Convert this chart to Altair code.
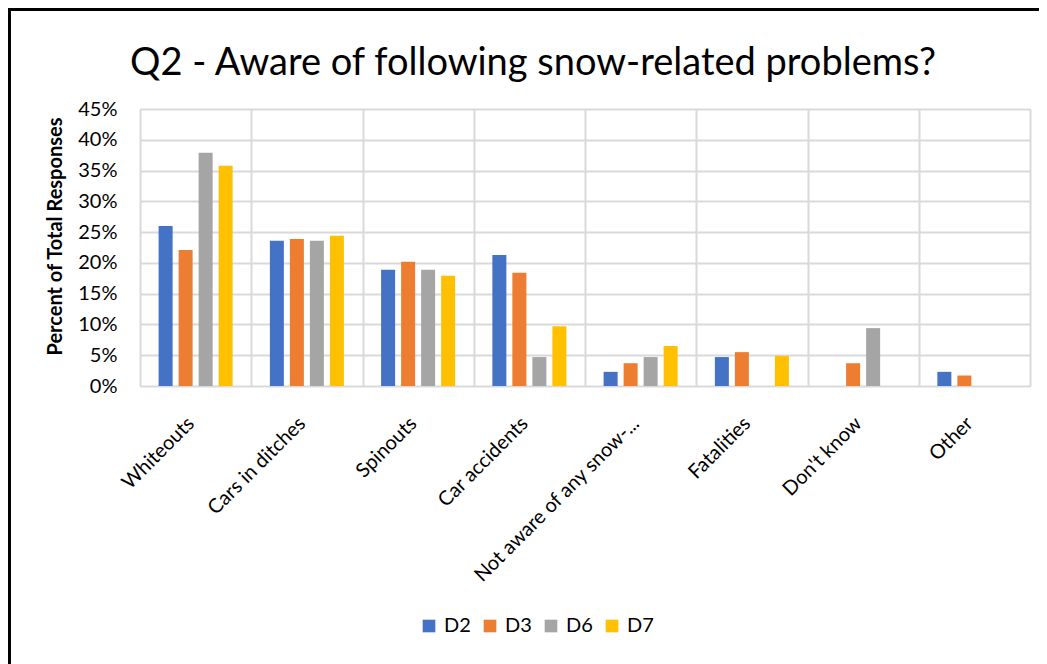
import altair as alt
import pandas as pd

categories = ["Whiteouts", "Cars in ditches", "Spinouts", "Car accidents",
              "Not aware of any snow-...", "Fatalities", "Don't know", "Other"]
series = ["D2", "D3", "D6", "D7"]
d2 = [26.0, 23.6, 18.9, 21.3, 2.3, 4.7, None, 2.3]
d3 = [22.1, 23.9, 20.2, 18.4, 3.7, 5.5, 3.7, 1.7]
d6 = [37.9, 23.6, 18.9, 4.7, 4.7, None, 9.4, None]
d7 = [35.8, 24.4, 17.9, 9.7, 6.5, 4.9, None, None]
colors = ["#4472C4", "#ED7D31", "#A5A5A5", "#FFC000"]
y_ticks = [0, 0.05, 0.10, 0.15, 0.20, 0.25, 0.30, 0.35, 0.40, 0.45]

rows = []
for s, vals in zip(series, [d2, d3, d6, d7]):
    for c, v in zip(categories, vals):
        if v is not None:
            rows.append({"category": c, "series": s, "value": v / 100})
df = pd.DataFrame(rows)

FONT = "Lato"
GRID = "#d9d9d9"

bars = alt.Chart(df).mark_bar().encode(
    x=alt.X("category:N", sort=categories, title=None,
            scale=alt.Scale(paddingInner=0, paddingOuter=0),
            axis=alt.Axis(labelAngle=-45, labelAlign="right", labelBaseline="top",
                          labelFontSize=20, labelColor="black", labelPadding=27,
                          labelOffset=-12, labelLimit=400,
                          tickBand="extent", grid=True, gridColor=GRID, gridWidth=2,
                          ticks=False, domain=False, labelFont=FONT)),
    xOffset=alt.XOffset("series:N", sort=series,
                        scale=alt.Scale(domain=series, paddingInner=0.3, paddingOuter=0.93)),
    y=alt.Y("value:Q", scale=alt.Scale(domain=[0, 0.45], nice=False),
            axis=alt.Axis(values=y_ticks, format=".0%", title="Percent of Total Responses",
                          titleFontWeight="bold", titleFontSize=20, titleColor="black",
                          titleFont=FONT, labelFont=FONT, labelFontSize=20, labelColor="black",
                          gridColor=GRID, gridWidth=2, domain=False, ticks=False,
                          labelPadding=23, titlePadding=12, titleY=127)),
    color=alt.Color("series:N", scale=alt.Scale(domain=series, range=colors),
                    legend=alt.Legend(title=None, orient="none", direction="horizontal",
                                      legendX=279, legendY=507, symbolType="square",
                                      symbolSize=160, symbolStrokeWidth=0, labelFontSize=20,
                                      labelFont=FONT, labelColor="black", columnPadding=9,
                                      labelOffset=5)),
)

frame_df = pd.DataFrame({"k": [0]})
left_line = alt.Chart(frame_df).mark_rule(color="black", strokeWidth=3).encode(
    x=alt.value(-130.5), y=alt.value(-101), y2=alt.value(560))
top_line = alt.Chart(frame_df).mark_rule(color="black", strokeWidth=3).encode(
    x=alt.value(-132), x2=alt.value(910), y=alt.value(-99.5))

chart = alt.layer(bars, left_line, top_line).properties(
    width=890, height=277,
    title=alt.TitleParams("Q2 - Aware of following snow-related problems?", fontSize=38,
                          font=FONT, fontWeight="normal", anchor="middle", dx=-52,
                          offset=-76, color="black"),
    autosize=alt.AutoSizeParams(type="none"),
    padding={"left": 132, "top": 101, "right": 9, "bottom": 278},
).configure_view(fill="#efefef", stroke=GRID, strokeWidth=2).configure(font=FONT, background="white")

chart.save("out.html", embed_options={"renderer": "svg", "actions": False})
